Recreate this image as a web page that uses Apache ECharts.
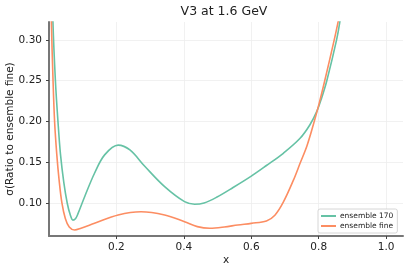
<!DOCTYPE html>
<html>
<head>
<meta charset="utf-8">
<script src="https://cdn.jsdelivr.net/npm/echarts@6/dist/echarts.min.js"></script>
<style>html,body{margin:0;padding:0;background:#fff;}#c{width:408px;height:273px;}</style>
</head>
<body>
<div id="c"></div>
<script>
const titleText = "V3 at 1.6 GeV";
const xLabel = "x";
const yLabel = "σ(Ratio to ensemble fine)";
const seriesNames = ["ensemble 170", "ensemble fine"];
const xTicks = [0.2, 0.4, 0.6, 0.8, 1.0];
const yTicks = [0.10, 0.15, 0.20, 0.25, 0.30];

const ens170 = [[0.008,0.40],[0.0116,0.323],[0.019,0.25],[0.0266,0.20],[0.034,0.16],[0.044,0.125],[0.054,0.10],[0.063,0.0855],[0.071,0.079],[0.079,0.081],[0.086,0.087],[0.106,0.108],[0.135,0.1365],[0.165,0.159],[0.205,0.171],[0.240,0.165],[0.284,0.145],[0.343,0.120],[0.402,0.1016],[0.432,0.0984],[0.460,0.100],[0.497,0.107],[0.546,0.119],[0.600,0.133],[0.645,0.146],[0.695,0.161],[0.744,0.179],[0.774,0.196],[0.794,0.212],[0.808,0.228],[0.824,0.25],[0.853,0.30],[0.863,0.323],[0.875,0.36]];
const ensFine = [[0.004,0.40],[0.007,0.323],[0.012,0.25],[0.0166,0.20],[0.023,0.16],[0.030,0.128],[0.0383,0.10],[0.0484,0.081],[0.060,0.0705],[0.076,0.0668],[0.095,0.069],[0.135,0.075],[0.205,0.0853],[0.273,0.0893],[0.343,0.0853],[0.402,0.077],[0.440,0.071],[0.477,0.069],[0.52,0.0705],[0.56,0.073],[0.60,0.075],[0.645,0.078],[0.670,0.085],[0.695,0.101],[0.725,0.128],[0.745,0.149],[0.765,0.170],[0.784,0.196],[0.800,0.220],[0.815,0.245],[0.846,0.30],[0.858,0.323],[0.87,0.347]];

const colors = ["#66c2a5", "#fc8d62"];
const font = "DejaVu Sans";

const chart = echarts.init(document.getElementById('c'), null, {renderer: 'canvas'});
chart.setOption({
  animation: false,
  backgroundColor: '#fff',
  textStyle: {fontFamily: font},
  grid: {left: 49, right: 5, top: 22, bottom: 37, containLabel: false, outerBoundsMode: 'none'},
  graphic: [{
    type: 'text', x: 224, y: 5,
    style: {text: titleText, font: '12.5px "DejaVu Sans"', fill: '#222', textAlign: 'center', textVerticalAlign: 'top'}
  }],
  xAxis: {
    type: 'value', min: 0, max: 1.05,
    name: xLabel, nameLocation: 'middle', nameGap: 19, nameMoveOverlap: false,
    nameTextStyle: {fontSize: 10.5, color: '#222', fontFamily: font},
    axisLine: {show: true, lineStyle: {color: '#777', width: 2}},
    axisTick: {show: true, customValues: xTicks, length: 3, lineStyle: {color: '#444'}},
    axisLabel: {customValues: xTicks, fontSize: 10.5, color: '#222', margin: 6, fontFamily: font,
      formatter: v => v.toFixed(1)},
    splitLine: {show: true, lineStyle: {color: '#eee', width: 0.8}}
  },
  yAxis: {
    type: 'value', min: 0.0595, max: 0.322,
    name: yLabel, nameLocation: 'middle', nameGap: 33, nameRotate: 90, nameMoveOverlap: false,
    nameTextStyle: {fontSize: 10.5, color: '#222', fontFamily: font},
    axisLine: {show: true, lineStyle: {color: '#777', width: 2}},
    axisTick: {show: true, customValues: yTicks, length: 3, lineStyle: {color: '#444'}},
    axisLabel: {customValues: yTicks, fontSize: 10.5, color: '#222', margin: 7, fontFamily: font,
      formatter: v => v.toFixed(2)},
    splitLine: {show: true, lineStyle: {color: '#eee', width: 0.8}}
  },
  legend: {
    orient: 'vertical', left: 318, top: 209,
    padding: [3, 4, 3, 3], itemGap: 2,
    itemWidth: 15, itemHeight: 2, icon: 'rect',
    backgroundColor: '#fff', borderColor: '#ccc', borderWidth: 0.8, borderRadius: 2,
    textStyle: {fontSize: 7.5, color: '#222', fontFamily: font, padding: [0,0,0,-1]},
    data: seriesNames
  },
  series: [
    {name: seriesNames[0], type: 'line', data: ens170, smooth: 0.35, symbol: 'none', clip: true,
     lineStyle: {color: colors[0], width: 1.6}, itemStyle: {color: colors[0]}},
    {name: seriesNames[1], type: 'line', data: ensFine, smooth: 0.35, symbol: 'none', clip: true,
     lineStyle: {color: colors[1], width: 1.6}, itemStyle: {color: colors[1]}}
  ]
});
</script>
</body>
</html>
